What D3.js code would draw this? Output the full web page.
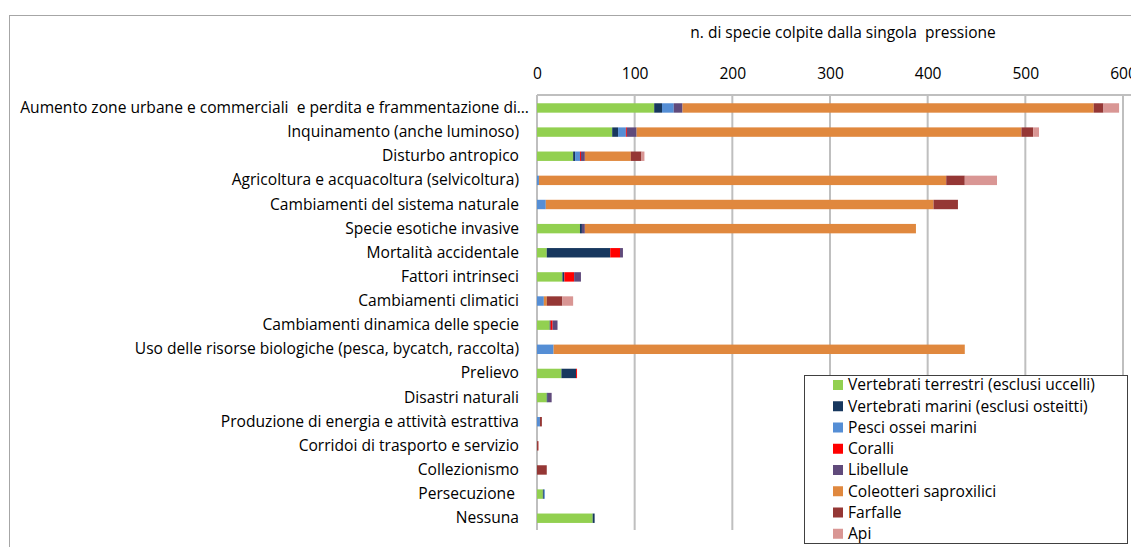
<!DOCTYPE html>
<html>
<head>
<meta charset="utf-8">
<script src="https://cdn.jsdelivr.net/npm/d3@7"></script>
<style>
  html, body { margin: 0; padding: 0; background: #fff; }
  svg { display: block; font-family: "Open Sans", "Noto Sans", sans-serif; }
  svg text { white-space: pre; }
</style>
</head>
<body>
<svg id="chart" width="1131" height="547"></svg>
<script>
// Pressures (categories), top to bottom
const categories = [
  "Aumento zone urbane e commerciali  e perdita e frammentazione di…",
  "Inquinamento (anche luminoso)",
  "Disturbo antropico",
  "Agricoltura e acquacoltura (selvicoltura)",
  "Cambiamenti del sistema naturale",
  "Specie esotiche invasive",
  "Mortalità accidentale",
  "Fattori intrinseci",
  "Cambiamenti climatici",
  "Cambiamenti dinamica delle specie",
  "Uso delle risorse biologiche (pesca, bycatch, raccolta)",
  "Prelievo",
  "Disastri naturali",
  "Produzione di energia e attività estrattiva",
  "Corridoi di trasporto e servizio",
  "Collezionismo",
  "Persecuzione ",
  "Nessuna"
];

// Number of species affected, one array per taxonomic group
const vertebratiTerrestri = [120, 77, 37, 0, 0, 44, 10, 26, 0, 13, 0, 25, 10, 0, 0, 0, 6, 57];
const vertebratiMarini    = [8, 6, 2, 0, 0, 2, 65, 2, 0, 1, 0, 15, 1, 0, 0, 0, 1, 2];
const pesciOssei          = [12, 8, 5, 2, 9, 0, 0, 0, 7, 0, 17, 0, 0, 3, 0, 0, 1, 0];
const coralli             = [0, 1, 1, 0, 0, 0, 10, 10, 0, 2, 0, 1, 0, 0, 0, 0, 0, 0];
const libellule           = [9, 10, 4, 0, 0, 3, 3, 7, 0, 5, 0, 0, 4, 0, 0, 0, 0, 0];
const coleotteri          = [421, 394, 47, 417, 397, 339, 0, 0, 3, 0, 421, 0, 0, 0, 0, 0, 0, 0];
const farfalle            = [10, 12, 11, 19, 25, 0, 0, 0, 16, 0, 0, 0, 0, 2, 1, 10, 0, 0];
const api                 = [16, 6, 3, 33, 0, 0, 0, 0, 11, 0, 0, 0, 0, 0, 1, 0, 0, 0];

const seriesNames = [
  "Vertebrati terrestri (esclusi uccelli)",
  "Vertebrati marini (esclusi osteitti)",
  "Pesci ossei marini",
  "Coralli",
  "Libellule",
  "Coleotteri saproxilici",
  "Farfalle",
  "Api"
];
const seriesValues = [vertebratiTerrestri, vertebratiMarini, pesciOssei, coralli,
                      libellule, coleotteri, farfalle, api];
const seriesColors = ["#92d050", "#17375e", "#558ed5", "#ff0000",
                      "#604a7b", "#e0883e", "#953735", "#d99694"];

const xTicks = [0, 100, 200, 300, 400, 500, 600];
const axisTitle = "n. di specie colpite dalla singola  pressione";

const FONT = "'Open Sans', 'Noto Sans', sans-serif";
const FS = 15.6;

// Build rows for d3.stack
const rows = categories.map((c, i) => {
  const r = { cat: c };
  seriesNames.forEach((s, j) => { r[s] = seriesValues[j][i]; });
  return r;
});
const stacked = d3.stack().keys(seriesNames)(rows);

const svg = d3.select("#chart");

// outer chart frame
svg.append("rect")
  .attr("x", 9.5).attr("y", 15.5)
  .attr("width", 1200).attr("height", 600)
  .attr("fill", "none").attr("stroke", "#a6a6a6").attr("stroke-width", 1);

const x = d3.scaleLinear().domain([0, 600]).range([537, 1123]);
const y = d3.scaleBand().domain(categories).range([95.9, 530.3]).paddingInner(0.61).paddingOuter(0.305);

// vertical gridlines
svg.append("g")
  .selectAll("line")
  .data(xTicks.slice(1))
  .join("line")
  .attr("x1", d => x(d)).attr("x2", d => x(d))
  .attr("y1", 95).attr("y2", 530)
  .attr("stroke", "#bfbfbf").attr("stroke-width", 2);

// top axis line and left category axis line
svg.append("line")
  .attr("x1", x(0)).attr("x2", 1131)
  .attr("y1", 95).attr("y2", 95)
  .attr("stroke", "#bfbfbf").attr("stroke-width", 2);
svg.append("line")
  .attr("x1", x(0)).attr("x2", x(0))
  .attr("y1", 95).attr("y2", 530)
  .attr("stroke", "#bfbfbf").attr("stroke-width", 2);

// stacked bars
svg.append("g")
  .selectAll("g")
  .data(stacked)
  .join("g")
  .attr("fill", (d, i) => seriesColors[i])
  .selectAll("rect")
  .data(d => d.filter(p => p[1] - p[0] > 0))
  .join("rect")
  .attr("x", p => x(p[0]))
  .attr("width", p => x(p[1]) - x(p[0]))
  .attr("y", p => y(p.data.cat))
  .attr("height", y.bandwidth());

// top value axis (tick labels only)
const xAxis = d3.axisTop(x).tickValues(xTicks).tickSize(0).tickPadding(0);
const gx = svg.append("g").attr("transform", "translate(0,79)").call(xAxis);
gx.select(".domain").remove();
gx.selectAll("text")
  .attr("font-family", FONT)
  .attr("font-size", FS).attr("fill", "#000");

// category labels
const yAxis = d3.axisLeft(y).tickSize(0).tickPadding(18);
const gy = svg.append("g").attr("transform", `translate(${x(0)},0)`).call(yAxis);
gy.select(".domain").remove();
gy.selectAll("text")
  .attr("font-family", FONT)
  .attr("font-size", FS).attr("fill", "#000");
gy.selectAll("text").filter((d, i) => i === 0).attr("dx", 10);

// axis title
svg.append("text")
  .attr("x", 843).attr("y", 38)
  .attr("text-anchor", "middle")
  .attr("font-family", FONT)
  .attr("font-size", 15.5).attr("fill", "#000")
  .text(axisTitle);

// legend
const lg = svg.append("g");
lg.append("rect")
  .attr("x", 804.5).attr("y", 375.5).attr("width", 323).attr("height", 168)
  .attr("fill", "#fff").attr("stroke", "#404040").attr("stroke-width", 1);
const items = lg.selectAll("g.item")
  .data(seriesNames)
  .join("g")
  .attr("class", "item")
  .attr("transform", (d, i) => `translate(833,${385 + i * 21.25})`);
items.append("rect")
  .attr("x", 0).attr("y", -5).attr("width", 10).attr("height", 10)
  .attr("fill", (d, i) => seriesColors[i]);
items.append("text")
  .attr("x", 15).attr("y", 0).attr("dy", "0.35em")
  .attr("font-family", FONT)
  .attr("font-size", FS).attr("fill", "#000")
  .text(d => d);
</script>
</body>
</html>
